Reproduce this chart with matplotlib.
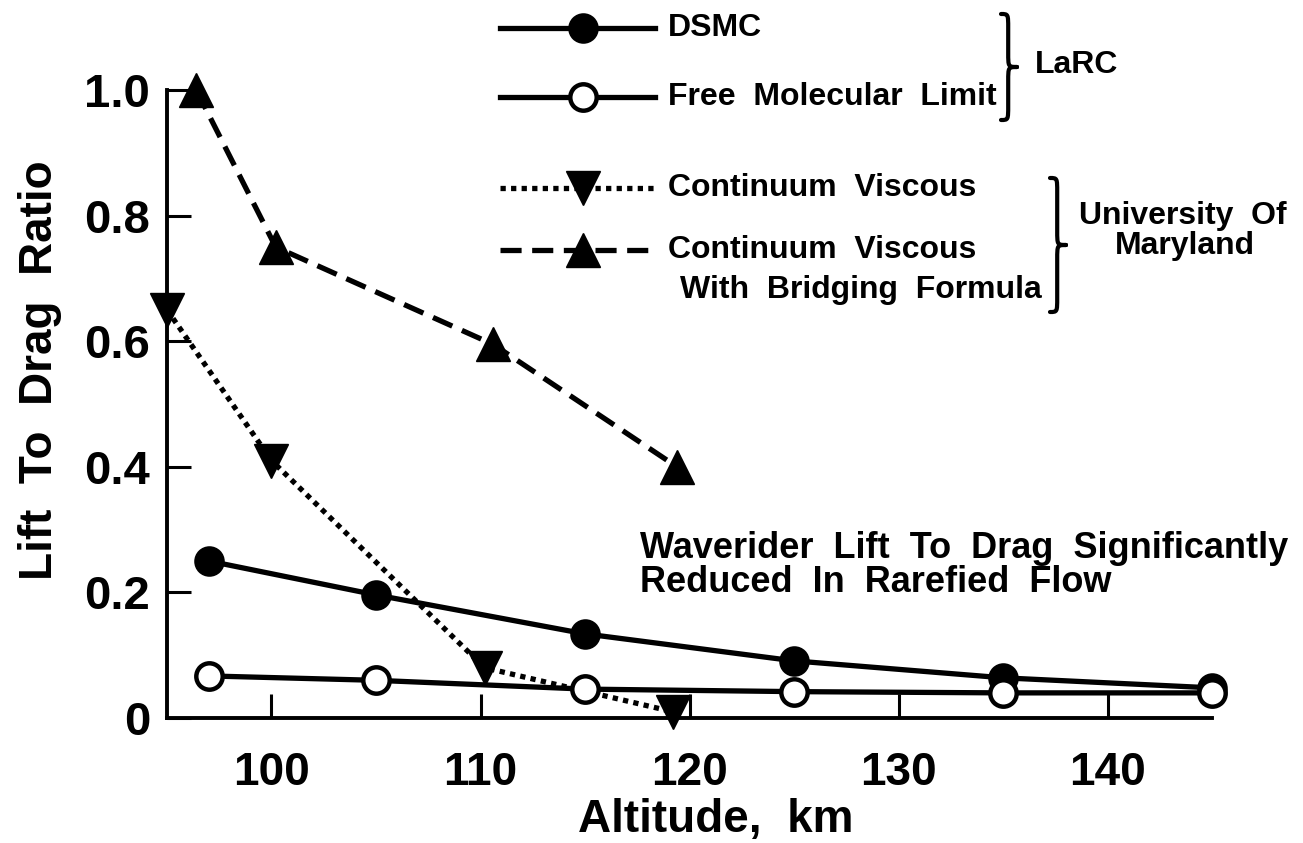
import matplotlib.pyplot as plt
from matplotlib.lines import Line2D
from matplotlib.path import Path
from matplotlib.patches import PathPatch

plt.rcParams['font.family'] = ['Liberation Sans', 'DejaVu Sans']
plt.rcParams['font.weight'] = 'bold'

# LaRC results
dsmc_alt = [97, 105, 115, 125, 135, 145]
dsmc_ld = [0.25, 0.196, 0.134, 0.091, 0.064, 0.048]
fm_alt = [97, 105, 115, 125, 135, 145]
fm_ld = [0.067, 0.060, 0.046, 0.042, 0.040, 0.040]

# University of Maryland results
cv_alt = [95.0, 100.0, 110.2, 119.2]
cv_ld = [0.65, 0.41, 0.08, 0.01]
bridge_alt = [96.4, 100.2, 110.6, 119.4]
bridge_ld = [1.0, 0.75, 0.595, 0.40]

x_ticks = [100, 110, 120, 130, 140]
y_ticks = [0, 0.2, 0.4, 0.6, 0.8, 1.0]
y_tick_labels = ['0', '0.2', '0.4', '0.6', '0.8', '1.0']

W, H = 1303, 843
LW = 3.8

styles = {
    'dsmc': dict(color='black', lw=LW, ls='-', marker='o', ms=20,
                 mfc='black', mec='black', mew=2),
    'fm': dict(color='black', lw=LW, ls='-', marker='o', ms=19,
               mfc='white', mec='black', mew=3.2),
    'cv': dict(color='black', lw=LW, ls=(0, (1, 1)), marker='v', ms=24,
               mfc='black', mec='black', mew=1),
    'bridge': dict(color='black', lw=LW, ls=(0, (4, 2)), marker='^', ms=24,
                   mfc='black', mec='black', mew=1),
}


def fpos(x, y):
    # pixel position (origin top-left) -> figure fraction
    return x / W, 1 - y / H


def brace(fig, x, y_top, y_bot, w=16):
    # right-pointing curly brace drawn from cubic segments
    ym = (y_top + y_bot) / 2
    xm = x + w * 0.45
    r = w * 0.9
    pts = [(x, y_top),
           (xm, y_top), (xm, y_top), (xm, y_top + r),
           (xm, ym - r),
           (xm, ym), (xm, ym), (x + w, ym),
           (xm, ym), (xm, ym), (xm, ym + r),
           (xm, y_bot - r),
           (xm, y_bot), (xm, y_bot), (x, y_bot)]
    codes = ([Path.MOVETO] + [Path.CURVE4] * 3 + [Path.LINETO]
             + [Path.CURVE4] * 6 + [Path.LINETO] + [Path.CURVE4] * 3)
    verts = [fpos(px, py) for px, py in pts]
    fig.add_artist(PathPatch(Path(verts, codes), transform=fig.transFigure,
                             fill=False, lw=3, color='black',
                             capstyle='round', joinstyle='round'))


fig = plt.figure(figsize=(W / 100, H / 100), dpi=100)
ax = fig.add_axes([167 / W, 1 - 718 / H, (1212 - 167) / W, (718 - 90) / H])

ax.plot(cv_alt, cv_ld, clip_on=False, zorder=3, dash_capstyle='butt', **styles['cv'])
ax.plot(bridge_alt, bridge_ld, clip_on=False, zorder=3, dash_capstyle='butt', **styles['bridge'])
ax.plot(dsmc_alt, dsmc_ld, clip_on=False, zorder=4, **styles['dsmc'])
ax.plot(fm_alt, fm_ld, clip_on=False, zorder=5, **styles['fm'])

ax.set_xlim(95, 145)
ax.set_ylim(0, 1.0)
ax.set_xticks(x_ticks)
ax.set_yticks(y_ticks)
ax.set_yticklabels(y_tick_labels)
for side in ['top', 'right']:
    ax.spines[side].set_visible(False)
for side in ['left', 'bottom']:
    ax.spines[side].set_linewidth(2.8)
ax.tick_params(axis='both', direction='in', length=17, width=2.2)
ax.tick_params(axis='x', labelsize=33, pad=24)
ax.tick_params(axis='y', labelsize=34, pad=12)

ax.set_xlabel('Altitude,  km', fontsize=33, fontweight='bold')
ax.xaxis.set_label_coords((716 - 167) / 1045, (718 - 798) / 628)
ax.set_ylabel('Lift  To  Drag  Ratio', fontsize=33, fontweight='bold')
ax.yaxis.set_label_coords((62 - 167) / 1045, (718 - 370) / 628)

# Legend samples
legend_rows = [('dsmc', 28), ('fm', 97), ('cv', 188), ('bridge', 250)]
for key, y in legend_rows:
    xs = [fpos(500, y)[0], fpos(583, y)[0], fpos(655, y)[0]]
    ys = [fpos(0, y)[1]] * 3
    fig.add_artist(Line2D(xs, ys, transform=fig.transFigure, markevery=[1],
                          dash_capstyle='butt', **styles[key]))

txt = dict(fontsize=23, fontweight='bold', va='center', ha='left')
fig.text(*fpos(668, 28), 'DSMC', **txt)
fig.text(*fpos(668, 97), 'Free  Molecular  Limit', **txt)
fig.text(*fpos(668, 188), 'Continuum  Viscous', **txt)
fig.text(*fpos(668, 250), 'Continuum  Viscous', **txt)
fig.text(*fpos(680, 290), 'With  Bridging  Formula', **txt)

brace(fig, 1001, 14, 120)
fig.text(*fpos(1035, 65), 'LaRC', **txt)
brace(fig, 1050, 178, 312)
grp = dict(fontsize=23, fontweight='bold', va='center', ha='center')
fig.text(*fpos(1183, 216), 'University  Of', **grp)
fig.text(*fpos(1185, 246), 'Maryland', **grp)

note = dict(fontsize=26, fontweight='bold', va='center', ha='left')
fig.text(*fpos(640, 548), 'Waverider  Lift  To  Drag  Significantly', **note)
fig.text(*fpos(640, 582), 'Reduced  In  Rarefied  Flow', **note)

fig.savefig('out.png', dpi=100)
